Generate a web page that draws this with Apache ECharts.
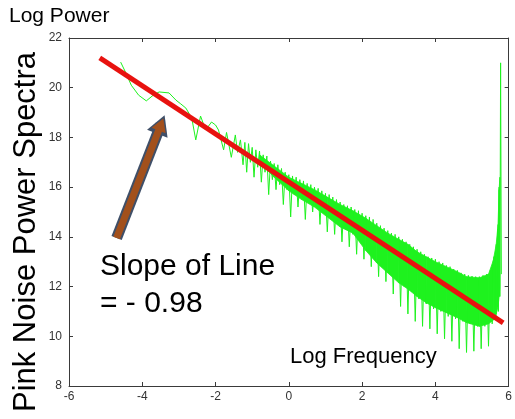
<!DOCTYPE html>
<html>
<head>
<meta charset="utf-8">
<script src="https://cdn.jsdelivr.net/npm/echarts@6/dist/echarts.min.js"></script>
<style>
html,body{margin:0;padding:0;background:#fff;}
#chart{width:515px;height:419px;}
</style>
</head>
<body>
<div id="chart"></div>
<script>
// ---- data ----
var xTickValues = [-6, -4, -2, 0, 2, 4, 6];
var yTickValues = [8, 10, 12, 14, 16, 18, 20, 22];

// fitted line (slope about -0.98)
var fitLine = [[-5.16, 21.2], [5.85, 10.54]];

// arrow annotation (tail -> head centre)
var arrowTail = [-4.70, 13.95];
var arrowTip = [-3.49, 18.52];

// low-frequency part of the spectrum (sparse)
var spectrumLow = [
  [-4.59, 21.03], [-4.45, 20.6], [-4.3, 20.1], [-4.1, 19.7], [-3.89, 19.47],
  [-3.7, 19.7], [-3.54, 19.83], [-3.27, 19.79], [-3.08, 19.5], [-2.95, 19.35],
  [-2.81, 19.18], [-2.65, 18.78], [-2.54, 17.9], [-2.41, 18.86], [-2.27, 18.3],
  [-2.11, 18.62], [-2.0, 18.5], [-1.92, 18.3], [-1.78, 17.5], [-1.70, 18.2],
  [-1.57, 17.2], [-1.46, 18.1], [-1.40, 17.4], [-1.32, 17.9]
];

// high-frequency part (dense, noisy)
var spectrumHigh = [
  [-1.30, 17.9], [-1.25, 16.9], [-1.20, 17.8], [-1.15, 16.6], [-1.10, 17.75],
  [-1.05, 17.0], [-1.00, 17.6], [-0.95, 16.4], [-0.90, 17.5], [-0.85, 16.8],
  [-0.80, 17.45], [-0.75, 16.2], [-0.70, 17.3], [-0.65, 16.6], [-0.60, 17.25],
  [-0.55, 15.7], [-0.50, 17.05], [-0.45, 16.3], [-0.40, 16.95], [-0.35, 15.9],
  [-0.30, 16.9], [-0.25, 16.1], [-0.20, 16.75], [-0.15, 15.3], [-0.10, 16.6],
  [-0.05, 15.9], [0.00, 16.5], [0.05, 14.8], [0.10, 16.45], [0.15, 15.7],
  [0.20, 16.4], [0.25, 15.2], [0.30, 16.3], [0.35, 15.6], [0.40, 16.25],
  [0.45, 14.7], [0.50, 16.15], [0.55, 15.4], [0.60, 16.1], [0.65, 15.0],
  [0.70, 16.0], [0.75, 15.3], [0.80, 15.95], [0.85, 14.5], [0.90, 15.85],
  [0.95, 15.0], [1.00, 15.75], [1.05, 14.2], [1.10, 15.7], [1.15, 14.8],
  [1.20, 15.6], [1.25, 14.1], [1.30, 15.5], [1.35, 14.5], [1.40, 15.4],
  [1.45, 13.8], [1.50, 15.3], [1.55, 14.3], [1.60, 15.25], [1.65, 13.6],
  [1.70, 15.2], [1.75, 14.1], [1.80, 15.1], [1.85, 13.3], [1.90, 15.05],
  [1.95, 13.8], [2.00, 14.95], [2.05, 13.1], [2.10, 14.85], [2.15, 13.5],
  [2.20, 14.8], [2.25, 12.8], [2.30, 14.7], [2.35, 13.2], [2.40, 14.55],
  [2.45, 12.4], [2.50, 14.45], [2.55, 12.9], [2.60, 14.35], [2.65, 12.2],
  [2.70, 14.25], [2.75, 12.6], [2.80, 14.15], [2.85, 11.7], [2.90, 14.1],
  [2.95, 12.3], [3.00, 14.0], [3.05, 11.2], [3.10, 13.9], [3.15, 12.0],
  [3.20, 13.8], [3.25, 10.9], [3.30, 13.7], [3.35, 11.8], [3.40, 13.6],
  [3.45, 10.6], [3.50, 13.5], [3.55, 11.5], [3.60, 13.4], [3.65, 10.4],
  [3.70, 13.3], [3.75, 11.3], [3.80, 13.2], [3.85, 10.3], [3.90, 13.15],
  [3.95, 11.1], [4.00, 13.1], [4.05, 10.1], [4.10, 13.0], [4.15, 11.0],
  [4.20, 12.95], [4.25, 9.9], [4.30, 12.85], [4.35, 10.8], [4.40, 12.8],
  [4.45, 9.8], [4.50, 12.7], [4.55, 10.7], [4.60, 12.65], [4.65, 9.5],
  [4.70, 12.55], [4.75, 10.6], [4.80, 12.5], [4.85, 9.35], [4.90, 12.45],
  [4.95, 10.5], [5.00, 12.42], [5.05, 9.4], [5.10, 12.4], [5.15, 10.4],
  [5.20, 12.4], [5.25, 9.5], [5.30, 12.45], [5.35, 10.4], [5.40, 12.5],
  [5.45, 9.6], [5.50, 12.65], [5.55, 10.5], [5.60, 13.2], [5.65, 10.7],
  [5.70, 14.3], [5.72, 11.0], [5.74, 16.0], [5.76, 11.6], [5.78, 21.0],
  [5.80, 12.5]
];

// solid core of the noise band: [x, upper, lower]
var bandCore = [
  [-0.80, 17.3, 17.0], [-0.40, 16.85, 16.4], [0.00, 16.4, 15.85], [0.35, 16.15, 15.5],
  [0.70, 15.9, 15.2], [1.05, 15.6, 14.8], [1.40, 15.3, 14.4], [1.75, 15.05, 14.15],
  [2.10, 14.75, 13.45], [2.40, 14.45, 12.95], [2.70, 14.15, 12.55], [3.00, 13.9, 12.15],
  [3.25, 13.7, 11.9], [3.50, 13.4, 11.6], [3.75, 13.2, 11.35], [4.00, 13.0, 11.15],
  [4.30, 12.8, 10.95], [4.60, 12.6, 10.75], [4.85, 12.4, 10.55], [5.20, 12.35, 10.4],
  [5.45, 12.5, 10.5], [5.58, 13.05, 10.65], [5.66, 13.7, 10.9], [5.71, 14.5, 11.2],
  [5.74, 15.9, 11.6], [5.76, 16.4, 12.0]
];

var axisColor = '#3a3a3a';
var green = '#1ef21e';
var fontFam = 'Liberation Sans, Arial, sans-serif';
var chart = echarts.init(document.getElementById('chart'), null, {renderer: 'canvas'});

function makeAxis(pos, showLabel, isX) {
  var ticks = isX ? xTickValues : yTickValues;
  return {
    type: 'value',
    position: pos,
    min: ticks[0],
    max: ticks[ticks.length - 1],
    interval: ticks[1] - ticks[0],
    splitLine: {show: false},
    axisLine: {show: true, onZero: false, lineStyle: {color: axisColor, width: 1}},
    axisTick: {show: true, inside: true, length: 4, lineStyle: {color: axisColor}},
    axisLabel: {
      show: showLabel,
      color: '#333',
      fontFamily: fontFam,
      fontSize: 12,
      margin: isX ? 5 : 7
    }
  };
}

var option = {
  animation: false,
  backgroundColor: '#ffffff',
  grid: {left: 69, right: 2, top: 38, bottom: 33, containLabel: false},
  xAxis: [makeAxis('bottom', true, true), makeAxis('top', false, true)],
  yAxis: [makeAxis('left', true, false), makeAxis('right', false, false)],
  series: [
    {
      type: 'custom',
      name: 'band',
      data: bandCore,
      z: 1,
      silent: true,
      renderItem: function (params, api) {
        var i = params.dataIndex;
        if (i >= bandCore.length - 1) return null;
        var a = bandCore[i], b = bandCore[i + 1];
        var pts = [
          api.coord([a[0], a[1]]), api.coord([b[0], b[1]]),
          api.coord([b[0], b[2]]), api.coord([a[0], a[2]])
        ];
        return {
          type: 'polygon',
          shape: {points: pts},
          style: {fill: green, stroke: green, lineWidth: 0.8}
        };
      }
    },
    {
      type: 'line',
      name: 'spectrum',
      data: spectrumLow.concat(spectrumHigh),
      showSymbol: false,
      symbol: 'none',
      lineStyle: {color: green, width: 1},
      z: 2
    },
    {
      type: 'line',
      name: 'fit',
      data: fitLine,
      showSymbol: false,
      symbol: 'none',
      lineStyle: {color: '#e8120f', width: 5},
      z: 3
    },
    {
      type: 'line',
      name: 'arrowOutline',
      data: [],
      z: 4,
      markLine: {
        silent: true,
        animation: false,
        symbol: ['none', 'triangle'],
        symbolSize: [22, 20],
        label: {show: false},
        lineStyle: {color: '#3f4f68', width: 11, type: 'solid'},
        data: [[{coord: arrowTail}, {coord: arrowTip}]]
      }
    },
    {
      type: 'line',
      name: 'arrowFill',
      data: [],
      z: 5,
      markLine: {
        silent: true,
        animation: false,
        symbol: ['none', 'triangle'],
        symbolSize: [15, 13],
        label: {show: false},
        lineStyle: {color: '#a2501c', width: 7, type: 'solid'},
        itemStyle: {color: '#a2501c'},
        data: [[{coord: arrowTail}, {coord: arrowTip}]]
      }
    }
  ],
  graphic: [
    {
      type: 'text', left: 9, top: 6, z: 10,
      style: {text: 'Log Power', fontSize: 21, fill: '#000', fontFamily: fontFam}
    },
    {
      type: 'text', x: 26, y: 232, rotation: Math.PI / 2, z: 10,
      style: {text: 'Pink Noise Power Spectra', fontSize: 31, fill: '#000',
        fontFamily: fontFam, align: 'center', verticalAlign: 'middle'}
    },
    {
      type: 'text', left: 100, top: 248, z: 10,
      style: {text: 'Slope of Line\n= - 0.98', fontSize: 30, lineHeight: 37, fill: '#000',
        fontFamily: fontFam}
    },
    {
      type: 'text', left: 290, top: 346, z: 10,
      style: {text: 'Log Frequency', fontSize: 22, fill: '#000', fontFamily: fontFam}
    }
  ]
};
chart.setOption(option);
</script>
</body>
</html>
